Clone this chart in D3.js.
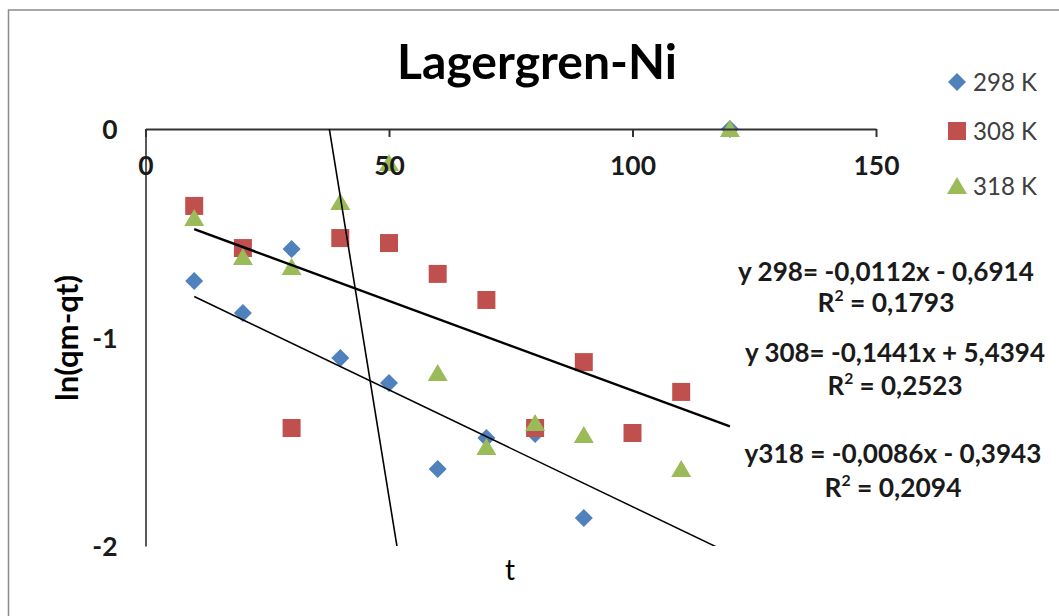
<!DOCTYPE html>
<html>
<head>
<meta charset="utf-8">
<script src="https://cdn.jsdelivr.net/npm/d3@7"></script>
<style>
  html, body { margin: 0; padding: 0; background: #ffffff; }
  svg { display: block; }
  text { font-family: "Lato", "Open Sans", sans-serif; }
</style>
</head>
<body>
<svg id="chart" width="1059" height="616"></svg>
<script>
// ---------- data ----------
const chartTitle = "Lagergren-Ni";
const seriesNames = ["298 K", "308 K", "318 K"];
const times298 = [10, 20, 30, 40, 50, 60, 70, 80, 90, 120];
const ln298    = [-0.729, -0.882, -0.576, -1.098, -1.218, -1.631, -1.482, -1.463, -1.866, 0];
const times308 = [10, 20, 30, 40, 50, 60, 70, 80, 90, 100, 110];
const ln308    = [-0.369, -0.571, -1.434, -0.523, -0.547, -0.695, -0.820, -1.434, -1.118, -1.458, -1.261];
const times318 = [10, 20, 30, 40, 50, 60, 70, 80, 90, 110, 120];
const ln318    = [-0.427, -0.614, -0.662, -0.350, -0.163, -1.170, -1.525, -1.410, -1.468, -1.631, 0];
const trendSlopes     = [-0.0112, -0.1441, -0.0086];
const trendIntercepts = [-0.6914, 5.4394, -0.3943];
const trendRange      = [10, 120];
const equationTexts = ["y 298= -0,0112x - 0,6914", "y 308= -0,1441x + 5,4394", "y318 = -0,0086x - 0,3943"];
const r2Texts = ["0,1793", "0,2523", "0,2094"];
const xTicks = [0, 50, 100, 150];
const yTicks = [0, -1, -2];
const xTitle = "t";
const yTitle = "ln(qm-qt)";

// ---------- setup ----------
const svg = d3.select("#chart");
const colors = ["#4f81bd", "#c0504d", "#9bbb59"];
const x = d3.scaleLinear().domain([0, 150]).range([145.5, 876]);
const y = d3.scaleLinear().domain([-2, 0]).range([546, 129]);

function fit(sel, w) {
  const cur = sel.node().getComputedTextLength();
  const fs = parseFloat(sel.attr("font-size"));
  if (cur > 0) sel.attr("font-size", fs * w / cur);
  return sel;
}

// chart border
svg.append("rect").attr("x", 8.5).attr("y", 10).attr("width", 1200).attr("height", 800)
  .attr("fill", "#ffffff").attr("stroke", "#8c8c8c").attr("stroke-width", 1.5);

// clip for plot area
svg.append("clipPath").attr("id", "plotclip").append("rect")
  .attr("x", x(0)).attr("y", y(0)).attr("width", x(150) - x(0)).attr("height", y(-2) - y(0));

// title
fit(svg.append("text").attr("x", 537).attr("y", 79).attr("text-anchor", "middle")
  .attr("font-weight", "bold").attr("font-size", 40).attr("fill", "#000").text(chartTitle), 280);

// ---------- axes ----------
const xAxis = d3.axisBottom(x).tickValues(xTicks).tickSize(8).tickSizeOuter(0).tickFormat(d3.format("d"));
const yAxis = d3.axisLeft(y).tickValues(yTicks).tickSize(0).tickSizeOuter(0).tickFormat(d => String(d));

const gy = svg.append("g").attr("transform", `translate(${x(0)},0)`).call(yAxis);
gy.select(".domain").attr("stroke", "#595959").attr("stroke-width", 2);
gy.selectAll("text").attr("font-family", "Lato, 'Open Sans', sans-serif").attr("font-weight", "bold")
  .attr("fill", "#1a1a1a").attr("x", -28).attr("dy", "0.36em").attr("text-anchor", "end");

const gx = svg.append("g").attr("transform", `translate(0,${y(0)})`).call(xAxis);
gx.select(".domain").attr("stroke", "#333").attr("stroke-width", 2);
gx.selectAll(".tick line").attr("stroke", "#333").attr("stroke-width", 2);

// ---------- markers ----------
const diamond = "M0,-9L9,0L0,9L-9,0Z";
const square = "M-9,-9L9,-9L9,9L-9,9Z";
const triangle = "M0,-9L10,8L-10,8Z";
const shapes = [diamond, square, triangle];
const series = [
  { t: times298, v: ln298 },
  { t: times308, v: ln308 },
  { t: times318, v: ln318 }
];
series.forEach((s, i) => {
  svg.append("g").selectAll("path").data(s.t.map((t, k) => [t, s.v[k]])).join("path")
    .attr("d", shapes[i]).attr("fill", colors[i])
    .attr("transform", d => `translate(${x(d[0])},${y(d[1])})`);
});

// tick labels drawn over markers
gx.selectAll("text").attr("font-family", "Lato, 'Open Sans', sans-serif").attr("font-weight", "bold")
  .attr("fill", "#1a1a1a").attr("y", 46).attr("dy", 0);
gx.raise();
const t100 = gx.selectAll("text").filter(d => d === 100);
t100.attr("font-size", 20);
fit(t100, 46);
const tickFs = t100.attr("font-size");
gx.selectAll("text").attr("font-size", tickFs);
gy.selectAll("text").attr("font-size", tickFs);

// ---------- trendlines ----------
const trendWidths = [1.5, 1.6, 2.4];
const lineGen = d3.line().x(d => x(d[0])).y(d => y(d[1]));
const trendG = svg.append("g").attr("clip-path", "url(#plotclip)");
trendSlopes.forEach((m, i) => {
  const pts = trendRange.map(t => [t, m * t + trendIntercepts[i]]);
  trendG.append("path").attr("d", lineGen(pts)).attr("fill", "none")
    .attr("stroke", "#000").attr("stroke-width", trendWidths[i]);
});

// ---------- axis titles ----------
fit(svg.append("text").attr("transform", "translate(78,338) rotate(-90)").attr("text-anchor", "middle")
  .attr("font-weight", "bold").attr("font-size", 24).attr("fill", "#000").text(yTitle), 126);
svg.append("text").attr("x", 510).attr("y", 580).attr("text-anchor", "middle")
  .attr("font-size", 28).attr("fill", "#000").text(xTitle);

// ---------- legend ----------
const legendY = [82, 131, 186];
seriesNames.forEach((n, i) => {
  svg.append("path").attr("d", shapes[i]).attr("fill", colors[i])
    .attr("transform", `translate(957,${legendY[i]})`);
  fit(svg.append("text").attr("x", 973).attr("y", legendY[i] + 8.5).attr("font-size", 20)
    .attr("fill", "#404040").text(n), 64);
});

// ---------- equations ----------
const eqCx = [886, 895, 893];
const eqY = [281, 362, 463];
const r2Y = [312, 395, 497];
const eqW = [296, 300, 297];
const r2W = [137, 135, 137];
equationTexts.forEach((e, i) => {
  fit(svg.append("text").attr("x", eqCx[i]).attr("y", eqY[i]).attr("text-anchor", "middle")
    .attr("font-weight", "bold").attr("font-size", 20).attr("fill", "#1a1a1a").text(e), eqW[i]);
  const r = svg.append("text").attr("x", eqCx[i]).attr("y", r2Y[i]).attr("text-anchor", "middle")
    .attr("font-weight", "bold").attr("font-size", 20).attr("fill", "#1a1a1a");
  r.append("tspan").text("R");
  r.append("tspan").attr("font-size", "60%").attr("dy", "-0.7em").text("2");
  r.append("tspan").attr("dy", "0.42em").text(" = " + r2Texts[i]);
  fit(r, r2W[i]);
});
</script>
</body>
</html>
